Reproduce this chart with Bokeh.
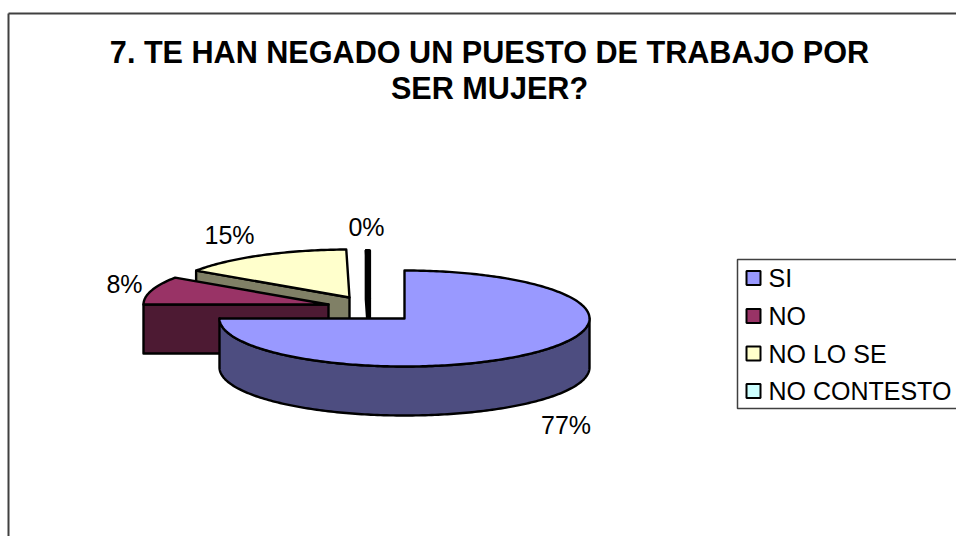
import math
from bokeh.plotting import figure
from bokeh.models import Range1d, ColumnDataSource
from bokeh.core.properties import value
from bokeh.embed import file_html
from bokeh.resources import INLINE

title_lines = ["7. TE HAN NEGADO UN PUESTO DE TRABAJO POR", "SER MUJER?"]
categories = ["SI", "NO", "NO LO SE", "NO CONTESTO"]
share_labels = ["77%", "8%", "15%", "0%"]
# sweep of every slice as it appears in the tilted drawing, degrees clockwise from 12 o'clock
visual_sweep = [270, 34, 55, 1]
top_colors = ["#9999FF", "#993366", "#FFFFCC", "#CCFFFF"]
wall_colors = ["#4D4D80", "#4D1A33", "#808066", "#668080"]

W, H = 956, 536

p = figure(width=W, height=H, output_backend="svg", toolbar_location=None,
           x_range=Range1d(0, W), y_range=Range1d(H, 0),
           x_axis_type=None, y_axis_type=None, min_border=0,
           outline_line_color=None, background_fill_color="white",
           border_fill_color="white")
p.grid.visible = False

FONT = value("Liberation Sans")

# outer frame: opens past the right and bottom of the window
p.line(x=[8, 8], y=[536, 13], line_color="#404040", line_width=2)
p.line(x=[8, 956], y=[13, 13], line_color="#404040", line_width=2)

# pie geometry
CX, CY, RX, RY, DEPTH = 404, 318, 185, 48, 49
explode = [(0, 0), (-76, -14), (-55, -21), (-35, -20)]

starts = []
acc = 0
for s in visual_sweep:
    starts.append(acc)
    acc += s


def arc(ax, ay, a0, a1, dy=0):
    n = max(2, int(abs(a1 - a0)) + 1)
    xs, ys = [], []
    for i in range(n + 1):
        t = math.radians(a0 + (a1 - a0) * i / n)
        xs.append(ax + RX * math.sin(t))
        ys.append(ay - RY * math.cos(t) + dy)
    return xs, ys


def draw(xs, ys, color, width=2.4):
    p.patch(x=xs, y=ys, fill_color=color,
            line_color="black", line_width=width, line_join="round")


# painter's order: back slices first, largest (front) slice last
for i in [3, 2, 1, 0]:
    ax, ay = CX + explode[i][0], CY + explode[i][1]
    a0, a1 = starts[i], starts[i] + visual_sweep[i]
    lw = 3.2 if i == 3 else 2.4
    if i == 0:
        tx, ty = arc(ax, ay, 90, 270)
        bx, by = arc(ax, ay, 270, 90, DEPTH)
        draw(tx + bx, ty + by, wall_colors[i], lw)
    else:
        ex, ey = arc(ax, ay, a0, a0)
        ex, ey = ex[0], ey[0]
        draw([ex, ax, ax, ex], [ey, ay, ay + DEPTH, ey + DEPTH], wall_colors[i], lw)
    tx, ty = arc(ax, ay, a0, a1)
    draw([ax] + tx, [ay] + ty, top_colors[i], lw)

# title
p.text(x=[489] * 2, y=[51, 87], text=title_lines, text_font=FONT,
       text_font_size="30.6px", text_font_style="bold", text_align="center",
       text_baseline="middle", text_color="black")

# slice labels
label_x = [565.5, 124, 229, 366]
label_y = [424, 283, 234, 226]
p.text(x=label_x, y=label_y, text=share_labels,
       text_font=FONT, text_font_size="25px", text_align="center",
       text_baseline="middle", text_color="black")

# legend
p.line(x=[956, 737, 737, 956], y=[259, 259, 408, 408],
       line_color="#404040", line_width=1.5)
leg_y = [277.5, 315.5, 353, 390.5]
src = ColumnDataSource(dict(l=[746] * 4, r=[760] * 4,
                            t=[v - 7 for v in leg_y], b=[v + 7 for v in leg_y],
                            c=top_colors))
p.quad(left="l", right="r", top="t", bottom="b", fill_color="c", line_color="black",
       line_width=2, source=src)
p.text(x=[768] * 4, y=leg_y, text=categories, text_font=FONT,
       text_font_size="25px", text_align="left", text_baseline="middle",
       text_color="black")

open("out.html", "w").write(file_html(p, INLINE))
